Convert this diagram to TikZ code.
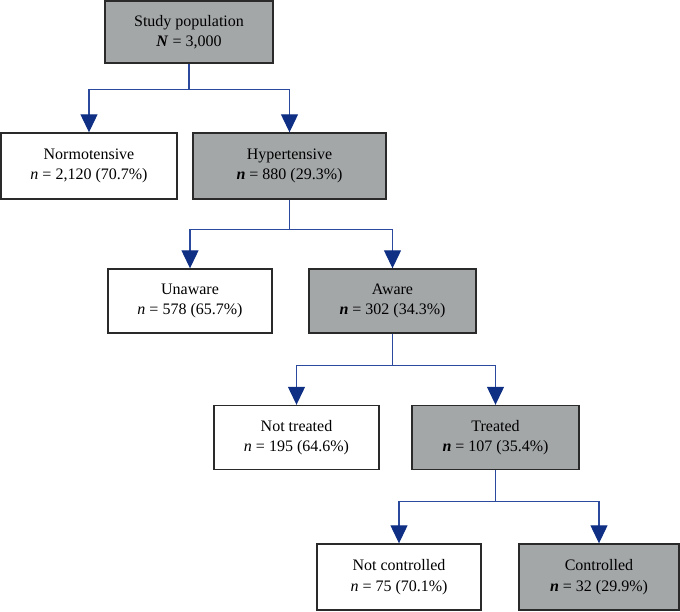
\documentclass[tikz,border=0pt]{standalone}
\usepackage{fontspec}
\setmainfont{Liberation Serif}
\usetikzlibrary{arrows.meta}
\definecolor{boxgray}{HTML}{A4A7A8}
\definecolor{linkblue}{HTML}{2B4A9E}
\definecolor{tipblue}{HTML}{0F2F85}
\definecolor{edgegray}{HTML}{2A2A2A}
\newcommand{\bn}[1]{\textbf{\textit{#1}}}
\begin{document}
\begin{tikzpicture}[x=1pt,y=-1pt,
  base/.style={draw=edgegray,line width=1.4pt,rectangle,align=center,inner sep=0pt,
    font=\fontsize{16}{20.5}\selectfont},
  plainbox/.style={base,fill=white},
  graybox/.style={base,fill=boxgray},
  conn/.style={draw=linkblue,line width=1.2pt,
    -{Triangle[width=17pt,length=18pt,fill=tipblue,color=tipblue]}}]
\useasboundingbox (0,0) rectangle (680,611);
\node[graybox,minimum width=168pt,minimum height=62pt] (study) at (189,32) {Study population\\\bn{N} = 3,000};
\node[plainbox,minimum width=176pt,minimum height=66pt] (normo) at (89,166) {Normotensive\\\textit{n} = 2,120 (70.7\%)};
\node[graybox,minimum width=193pt,minimum height=66pt] (hyper) at (289.5,166) {Hypertensive\\\bn{n} = 880 (29.3\%)};
\node[plainbox,minimum width=164pt,minimum height=64pt] (unaware) at (190,301) {Unaware\\\textit{n} = 578 (65.7\%)};
\node[graybox,minimum width=167pt,minimum height=64pt] (aware) at (392.5,301) {Aware\\\bn{n} = 302 (34.3\%)};
\node[plainbox,minimum width=165pt,minimum height=64pt] (nott) at (296.5,437.5) {Not treated\\\textit{n} = 195 (64.6\%)};
\node[graybox,minimum width=167pt,minimum height=64pt] (treated) at (495.5,437.5) {Treated\\\bn{n} = 107 (35.4\%)};
\node[plainbox,minimum width=164pt,minimum height=66pt] (notc) at (399,577) {Not controlled\\\textit{n} = 75 (70.1\%)};
\node[graybox,minimum width=160pt,minimum height=66pt] (contr) at (599,577) {Controlled\\\bn{n} = 32 (29.9\%)};
\draw[conn] (study.south) -- ++(0,26) -| (normo.north);
\draw[conn] (study.south) -- ++(0,26) -| (hyper.north);
\draw[conn] (hyper.south) -- ++(0,30) -| (unaware.north);
\draw[conn] (hyper.south) -- ++(0,30) -| (aware.north);
\draw[conn] (aware.south) -- ++(0,32) -| (nott.north);
\draw[conn] (aware.south) -- ++(0,32) -| (treated.north);
\draw[conn] (treated.south) -- ++(0,31) -| (notc.north);
\draw[conn] (treated.south) -- ++(0,31) -| (contr.north);
\end{tikzpicture}
\end{document}
